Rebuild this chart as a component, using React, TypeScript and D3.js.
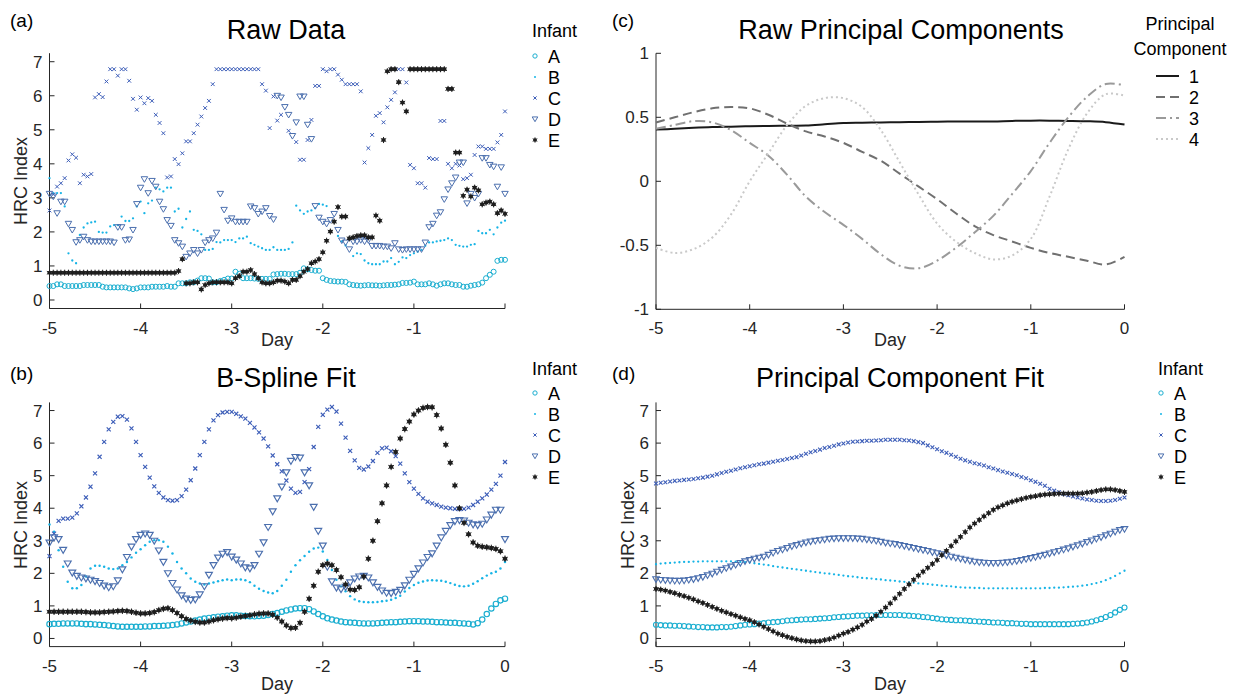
import React from "react";
import * as d3 from "d3";

// ---------- data ----------
const X_TICKS = [-5, -4, -3, -2, -1, 0];
const HRC_TICKS = [0, 1, 2, 3, 4, 5, 6, 7];
const PC_TICKS = [-1, -0.5, 0, 0.5, 1];
const PC_TICK_LABELS = ["-1", "-0.5", "0", "0.5", "1"];
const INFANTS = ["A", "B", "C", "D", "E"];
const PC_NAMES = ["1", "2", "3", "4"];

// (a) raw data, hourly samples from day -5 to day 0
const RAW_A = [
  0.41,0.41,0.46,0.46,0.41,0.41,0.41,0.41,0.41,0.44,
  0.44,0.44,0.44,0.44,0.39,0.37,0.37,0.37,0.37,0.37,
  0.37,0.34,0.32,0.34,0.37,0.37,0.37,0.39,0.39,0.39,
  0.39,0.41,0.39,0.39,0.49,0.49,0.49,0.52,0.52,0.57,
  0.64,0.64,0.63,0.52,0.52,0.56,0.59,0.63,0.63,0.83,
  0.77,0.64,0.64,0.64,0.63,0.62,0.62,0.62,0.62,0.75,
  0.76,0.77,0.77,0.76,0.76,0.76,0.80,0.93,0.90,0.88,
  0.86,0.86,0.64,0.59,0.56,0.55,0.54,0.54,0.53,0.46,
  0.44,0.43,0.42,0.43,0.44,0.43,0.43,0.42,0.43,0.44,
  0.44,0.45,0.46,0.50,0.50,0.51,0.54,0.46,0.46,0.46,
  0.49,0.46,0.42,0.46,0.49,0.49,0.46,0.44,0.44,0.39,
  0.39,0.42,0.44,0.46,0.51,0.64,0.74,0.83,1.15,1.18,
  1.18,
];
const RAW_B = [
  3.58,3.14,3.14,3.14,2.75,1.37,1.16,1.08,1.91,2.13,
  2.25,2.28,2.3,2.0,1.98,1.98,2.16,2.2,2.2,2.45,
  2.32,2.32,2.4,2.75,2.89,2.55,2.84,2.92,3.3,3.25,
  3.19,3.3,3.3,2.6,2.68,2.13,2.38,2.6,2.06,2.03,
  1.93,1.47,1.47,1.5,1.7,1.69,1.76,1.76,1.76,1.7,
  1.81,1.81,1.86,1.67,1.62,1.57,1.52,1.47,1.47,1.55,
  1.47,1.47,1.47,1.5,1.69,2.77,2.63,2.53,2.6,2.63,
  2.7,2.82,2.8,2.76,null,null,1.88,1.72,1.6,null,
  1.29,1.37,1.35,1.16,1.08,1.05,1.05,1.05,1.13,1.13,
  1.23,1.05,1.12,1.25,1.23,1.32,1.37,1.42,1.47,1.59,
  1.69,1.69,1.72,1.74,1.76,1.81,1.76,1.62,1.59,1.57,
  1.57,1.62,1.64,2.03,1.96,1.96,2.06,1.93,2.13,2.27,
  2.33,
];
const RAW_C = [
  2.63,3.1,3.33,3.43,3.58,4.1,4.28,4.18,3.43,3.68,
  3.63,3.7,5.95,6.05,5.96,6.42,6.78,6.78,6.59,6.78,
  6.78,6.44,5.91,5.59,5.95,5.78,5.93,5.85,5.44,5.2,
  4.9,3.6,3.63,4.14,3.99,4.31,4.66,4.66,4.9,5.15,
  5.39,5.64,5.85,6.34,6.78,6.78,6.78,6.78,6.78,6.78,
  6.78,6.78,6.78,6.78,6.78,6.78,6.34,6.15,5.05,5.98,
  5.27,5.44,null,4.97,null,4.64,4.12,4.12,4.7,5.29,
  6.29,6.29,6.78,6.72,6.78,6.78,6.62,6.47,6.34,6.34,
  6.34,6.34,6.13,4.04,4.46,4.85,5.41,5.49,5.22,5.66,
  5.88,6.1,6.78,6.78,6.39,3.97,3.87,3.43,3.43,3.3,
  4.17,4.14,4.14,5.26,5.26,4.0,3.87,4.0,3.95,3.55,
  3.58,3.68,4.26,4.51,4.51,4.44,4.44,4.44,4.63,4.85,
  5.54,
];
const RAW_D = [
  3.12,3.04,2.55,2.89,2.89,2.24,2.06,1.70,1.76,1.86,
  1.76,1.72,1.72,1.72,1.72,1.72,1.72,1.69,2.14,2.14,
  1.76,1.78,2.06,2.82,3.30,3.55,3.14,3.5,3.33,2.89,
  2.67,2.35,2.18,1.76,1.67,1.57,1.27,1.37,1.47,1.37,
  1.47,1.69,1.76,1.81,1.98,3.12,2.65,2.33,2.4,2.3,
  2.3,2.3,2.3,2.75,2.7,2.53,2.6,2.7,2.47,2.37,
  6.0,5.95,5.67,5.44,4.82,5.22,5.98,5.98,5.15,4.73,
  2.76,2.42,2.3,2.24,2.35,2.53,2.06,1.75,1.69,1.49,
  1.72,1.72,1.76,1.72,1.76,1.59,1.59,1.59,1.57,1.57,
  1.52,1.67,1.49,1.47,1.49,1.49,1.49,1.49,1.49,1.69,
  2.14,2.24,2.48,2.58,2.96,3.25,3.43,3.6,4.04,4.04,
  2.84,3.12,3.0,3.12,4.17,4.17,3.97,3.92,3.33,3.9,
  3.12,
];
const RAW_E = [
  0.8,0.8,0.8,0.8,0.8,0.8,0.8,0.8,0.8,0.8,
  0.8,0.8,0.8,0.8,0.8,0.8,0.8,0.8,0.8,0.8,
  0.8,0.8,0.8,0.8,0.8,0.8,0.8,0.8,0.8,0.8,
  0.8,0.8,0.8,0.8,0.85,1.2,0.49,0.49,0.52,0.52,
  0.31,0.44,0.49,0.52,0.52,0.52,0.52,0.52,0.49,0.64,
  0.70,0.83,0.83,0.88,0.76,0.64,0.52,0.49,0.49,0.52,
  0.57,0.57,0.54,0.49,0.59,0.59,0.70,0.83,0.91,1.08,
  1.13,1.2,1.4,1.74,2.01,2.3,2.73,2.45,2.45,1.81,
  1.84,1.88,1.9,1.9,1.84,1.84,2.48,2.33,4.7,6.72,
  6.78,6.78,6.4,5.8,5.54,6.78,6.78,6.78,6.78,6.78,
  6.78,6.78,6.78,6.78,6.78,6.2,6.2,4.33,4.33,3.06,
  3.24,3.04,3.3,3.22,2.81,2.86,2.89,2.81,2.55,2.63,
  2.53,
];

// (b) B-spline fit, every 0.05 day
const FIT_A = [
  0.44,0.45,0.45,0.46,0.46,0.46,0.46,0.45,0.44,0.44,
  0.43,0.42,0.41,0.4,0.38,0.37,0.36,0.36,0.36,0.36,
  0.36,0.37,0.37,0.38,0.38,0.39,0.4,0.41,0.43,0.46,
  0.49,0.52,0.55,0.58,0.61,0.63,0.65,0.67,0.68,0.7,
  0.71,0.71,0.7,0.69,0.68,0.68,0.69,0.7,0.72,0.75,
  0.78,0.82,0.86,0.89,0.92,0.93,0.93,0.9,0.83,0.75,
  0.68,0.62,0.58,0.55,0.52,0.5,0.49,0.48,0.47,0.46,
  0.46,0.46,0.47,0.48,0.49,0.5,0.5,0.51,0.52,0.53,
  0.53,0.53,0.52,0.52,0.51,0.5,0.5,0.49,0.48,0.48,
  0.47,0.46,0.45,0.43,0.47,0.58,0.75,0.92,1.06,1.17,
  1.22,
];
const FIT_B = [
  3.5,3.28,2.71,2.2,1.74,1.54,1.54,1.64,1.9,2.15,
  2.23,2.23,2.2,2.15,2.13,2.15,2.25,2.35,2.49,2.63,
  2.74,2.86,2.97,3.02,3.02,2.97,2.82,2.61,2.35,2.15,
  2.0,1.84,1.74,1.69,1.66,1.69,1.72,1.76,1.79,1.81,
  1.79,1.81,1.81,1.79,1.73,1.62,1.53,1.46,1.41,1.39,
  1.46,1.62,1.8,2.05,2.25,2.4,2.53,2.66,2.76,2.79,
  2.67,2.41,2.1,1.8,1.6,1.45,1.3,1.2,1.14,1.12,
  1.11,1.11,1.12,1.14,1.16,1.19,1.24,1.31,1.44,1.55,
  1.64,1.71,1.75,1.78,1.79,1.78,1.77,1.74,1.7,1.65,
  1.61,1.6,1.62,1.68,1.76,1.85,1.93,2.0,2.05,2.15,
  2.35,
];
const FIT_C = [
  2.53,3.22,3.61,3.68,3.68,3.71,3.84,4.06,4.33,4.66,
  5.07,5.58,6.04,6.42,6.65,6.81,6.83,6.72,6.45,6.04,
  5.63,5.27,4.94,4.67,4.47,4.33,4.25,4.23,4.25,4.37,
  4.57,4.86,5.22,5.63,6.04,6.42,6.7,6.86,6.94,6.96,
  6.96,6.9,6.82,6.75,6.62,6.48,6.33,6.14,5.9,5.62,
  5.35,5.13,4.85,4.6,4.47,4.5,4.8,5.2,5.88,6.5,
  6.87,7.03,7.11,6.97,6.6,6.17,5.76,5.47,5.24,5.19,
  5.28,5.45,5.7,5.84,5.86,5.75,5.6,5.37,5.07,4.8,
  4.6,4.44,4.3,4.2,4.15,4.1,4.05,4.02,4.0,3.98,
  3.97,3.98,4.02,4.1,4.2,4.3,4.42,4.57,4.75,5.0,
  5.42,
];
const FIT_D = [
  2.94,3.1,3.05,2.72,2.3,2.02,1.92,1.87,1.84,1.8,
  1.76,1.7,1.62,1.57,1.6,1.78,2.12,2.5,2.82,3.05,
  3.18,3.22,3.18,3.0,2.7,2.35,2.0,1.7,1.5,1.32,
  1.22,1.18,1.2,1.35,1.6,1.95,2.25,2.48,2.6,2.65,
  2.51,2.42,2.3,2.18,2.15,2.25,2.6,2.95,3.42,3.9,
  4.3,4.66,5.1,5.45,5.57,5.55,5.1,4.7,4.04,3.3,
  2.85,2.2,1.75,1.56,1.51,1.58,1.72,1.84,1.9,1.92,
  1.87,1.72,1.58,1.47,1.4,1.39,1.43,1.49,1.63,1.8,
  1.98,2.15,2.33,2.5,2.61,2.85,3.1,3.3,3.48,3.6,
  3.63,3.62,3.55,3.5,3.48,3.52,3.65,3.8,3.95,3.95,
  3.05,
];
const FIT_E = [
  0.82,0.82,0.82,0.82,0.82,0.82,0.82,0.82,0.81,0.8,
  0.8,0.8,0.81,0.82,0.83,0.84,0.85,0.84,0.82,0.79,
  0.77,0.77,0.78,0.81,0.87,0.91,0.93,0.87,0.78,0.68,
  0.6,0.55,0.51,0.49,0.49,0.52,0.56,0.59,0.61,0.63,
  0.62,0.64,0.67,0.69,0.71,0.74,0.76,0.77,0.77,0.73,
  0.64,0.52,0.4,0.32,0.33,0.48,0.82,1.22,1.62,2.05,
  2.25,2.3,2.25,2.1,1.88,1.66,1.5,1.49,1.57,1.9,
  2.45,3.0,3.6,4.15,4.7,5.27,5.73,6.14,6.43,6.66,
  6.88,7.0,7.08,7.11,7.1,6.86,6.45,5.95,5.4,4.7,
  4.0,3.55,3.2,2.95,2.85,2.82,2.8,2.78,2.75,2.68,
  2.45,
];

// (c) raw principal components, every 0.2 day
const PC1 = [0.404,0.41,0.418,0.424,0.427,0.43,0.432,0.434,0.435,0.445,0.456,0.458,0.46,0.462,0.464,0.466,0.467,0.467,0.468,0.472,0.474,0.474,0.472,0.469,0.462,0.443];
const PC2 = [0.46,0.5,0.54,0.57,0.58,0.57,0.52,0.45,0.39,0.35,0.3,0.23,0.16,0.06,-0.04,-0.14,-0.25,-0.35,-0.42,-0.47,-0.52,-0.56,-0.59,-0.62,-0.65,-0.59];
const PC3 = [0.41,0.44,0.47,0.46,0.4,0.3,0.2,0.05,-0.12,-0.24,-0.34,-0.45,-0.57,-0.66,-0.68,-0.62,-0.52,-0.4,-0.27,-0.1,0.08,0.3,0.5,0.66,0.76,0.75];
const PC4 = [-0.52,-0.56,-0.53,-0.44,-0.26,0.0,0.22,0.44,0.59,0.65,0.65,0.58,0.4,0.15,-0.1,-0.33,-0.47,-0.56,-0.61,-0.58,-0.45,-0.12,0.25,0.53,0.68,0.67];

// (d) principal component fit, every 0.05 day
const PCF_A = [
  0.42,0.41,0.4,0.4,0.39,0.39,0.38,0.37,0.36,0.35,
  0.35,0.34,0.34,0.34,0.35,0.35,0.36,0.38,0.4,0.42,
  0.43,0.44,0.46,0.47,0.49,0.5,0.51,0.53,0.55,0.56,
  0.57,0.58,0.59,0.59,0.6,0.61,0.62,0.63,0.65,0.66,
  0.67,0.68,0.69,0.7,0.7,0.71,0.71,0.72,0.72,0.72,
  0.72,0.72,0.72,0.71,0.7,0.69,0.68,0.66,0.65,0.63,
  0.61,0.59,0.58,0.57,0.56,0.56,0.55,0.54,0.53,0.52,
  0.51,0.5,0.49,0.49,0.48,0.47,0.47,0.46,0.45,0.45,
  0.44,0.44,0.44,0.44,0.44,0.44,0.44,0.44,0.44,0.45,
  0.46,0.47,0.49,0.52,0.56,0.6,0.66,0.72,0.8,0.88,
  0.95,
];
const PCF_B = [
  2.28,2.3,2.31,2.32,2.33,2.34,2.35,2.35,2.36,2.36,
  2.37,2.37,2.37,2.37,2.37,2.37,2.37,2.36,2.35,2.34,
  2.33,2.31,2.29,2.27,2.25,2.22,2.2,2.18,2.16,2.14,
  2.12,2.1,2.08,2.06,2.04,2.02,2.0,1.99,1.97,1.95,
  1.93,1.91,1.9,1.88,1.86,1.85,1.84,1.82,1.81,1.79,
  1.78,1.77,1.75,1.74,1.72,1.71,1.69,1.68,1.67,1.65,
  1.64,1.62,1.61,1.6,1.58,1.57,1.56,1.56,1.55,1.55,
  1.54,1.54,1.54,1.54,1.54,1.54,1.54,1.54,1.54,1.54,
  1.54,1.54,1.54,1.55,1.55,1.56,1.56,1.57,1.58,1.59,
  1.6,1.62,1.64,1.67,1.7,1.74,1.79,1.85,1.92,2.0,
  2.08,
];
const PCF_C = [
  4.76,4.78,4.8,4.82,4.84,4.85,4.87,4.88,4.9,4.92,
  4.94,4.97,5.0,5.04,5.08,5.12,5.15,5.19,5.23,5.26,
  5.29,5.32,5.35,5.37,5.4,5.43,5.46,5.48,5.51,5.54,
  5.57,5.62,5.67,5.72,5.76,5.8,5.85,5.88,5.92,5.96,
  5.99,6.02,6.04,6.05,6.06,6.07,6.07,6.08,6.09,6.1,
  6.1,6.1,6.1,6.09,6.08,6.06,6.03,6.0,5.93,5.87,
  5.81,5.75,5.7,5.64,5.58,5.52,5.47,5.43,5.38,5.35,
  5.31,5.26,5.22,5.17,5.13,5.09,5.05,5.01,4.96,4.92,
  4.86,4.81,4.75,4.69,4.6,4.54,4.49,4.44,4.4,4.36,
  4.33,4.3,4.27,4.25,4.23,4.22,4.22,4.23,4.25,4.29,
  4.33,
];
const PCF_D = [
  1.82,1.8,1.79,1.78,1.77,1.77,1.78,1.8,1.82,1.85,
  1.89,1.94,1.99,2.05,2.11,2.16,2.21,2.26,2.32,2.37,
  2.41,2.45,2.48,2.51,2.57,2.63,2.69,2.73,2.78,2.83,
  2.87,2.91,2.95,2.98,3.0,3.02,3.04,3.06,3.07,3.08,
  3.08,3.08,3.08,3.07,3.06,3.04,3.02,3.0,2.97,2.94,
  2.92,2.9,2.87,2.84,2.81,2.78,2.75,2.72,2.69,2.65,
  2.62,2.59,2.55,2.51,2.48,2.45,2.42,2.39,2.36,2.34,
  2.33,2.32,2.32,2.32,2.33,2.34,2.36,2.38,2.41,2.44,
  2.47,2.5,2.54,2.57,2.61,2.65,2.69,2.73,2.77,2.82,
  2.86,2.91,2.96,3.01,3.06,3.11,3.17,3.22,3.28,3.33,
  3.36,
];
const PCF_E = [
  1.52,1.5,1.47,1.43,1.39,1.34,1.3,1.25,1.2,1.14,
  1.09,1.03,0.97,0.91,0.85,0.8,0.75,0.7,0.65,0.6,
  0.56,0.5,0.43,0.36,0.29,0.22,0.15,0.1,0.05,0.01,
  -0.03,-0.06,-0.08,-0.09,-0.09,-0.08,-0.05,-0.02,0.03,0.09,
  0.15,0.2,0.27,0.34,0.42,0.52,0.6,0.7,0.82,0.95,
  1.08,1.23,1.37,1.52,1.66,1.8,1.93,2.05,2.17,2.29,
  2.41,2.56,2.69,2.84,2.98,3.12,3.27,3.41,3.53,3.64,
  3.75,3.85,3.95,4.03,4.09,4.15,4.2,4.24,4.28,4.32,
  4.35,4.37,4.4,4.42,4.43,4.44,4.45,4.45,4.45,4.45,
  4.45,4.46,4.48,4.5,4.53,4.56,4.58,4.58,4.56,4.53,
  4.5,
];

// ---------- styling ----------
const FONT = "'Liberation Sans', Arial, Helvetica, sans-serif";
const AXIS = "#262626";
const COLORS: Record<string, string> = {
  A: "#1aaed0",
  B: "#16b4e6",
  C: "#3c5db8",
  D: "#4b6fae",
  E: "#1e1e1e",
};
const PC_STYLES = [
  { stroke: "#1a1a1a", dash: "" },
  { stroke: "#707070", dash: "9,5" },
  { stroke: "#9a9a9a", dash: "10,4,2,4" },
  { stroke: "#c9c9c9", dash: "2,3" },
];

type Frame = { x0: number; x1: number; yTop: number; yBot: number; yDom: [number, number] };
const FRAME_A: Frame = { x0: 49.5, x1: 505, yTop: 53.2, yBot: 308.5, yDom: [-0.25, 7.25] };
const FRAME_B: Frame = { x0: 49.5, x1: 505, yTop: 402.4, yBot: 646.6, yDom: [-0.25, 7.25] };
const FRAME_C: Frame = { x0: 656, x1: 1124.5, yTop: 53.3, yBot: 309.3, yDom: [-1, 1] };
const FRAME_D: Frame = { x0: 656, x1: 1124.5, yTop: 402.4, yBot: 646.6, yDom: [-0.25, 7.25] };

function Marker({ k, x, y, s, w = 1 }: { k: string; x: number; y: number; s: number; w?: number }) {
  const c = COLORS[k];
  if (k === "A") return <circle cx={x} cy={y} r={2.4 * s} fill="none" stroke={c} strokeWidth={w} />;
  if (k === "B") return <circle cx={x} cy={y} r={1.1 * s} fill={c} />;
  if (k === "C") {
    const h = 1.8 * s;
    return (
      <path
        d={`M${x - h},${y - h}L${x + h},${y + h}M${x - h},${y + h}L${x + h},${y - h}`}
        stroke={c}
        strokeWidth={w}
        fill="none"
      />
    );
  }
  if (k === "D") {
    const hw = 3.1 * s;
    return (
      <path
        d={`M${x - hw},${y - 2.3 * s}L${x + hw},${y - 2.3 * s}L${x},${y + 3 * s}Z`}
        stroke={c}
        strokeWidth={w}
        fill="none"
      />
    );
  }
  const a = 2.9 * s;
  return (
    <g>
      <circle cx={x} cy={y} r={2 * s} fill={c} />
      <path
        d={`M${x},${y - a}L${x},${y + a}M${x - a * 0.87},${y - a / 2}L${x + a * 0.87},${y + a / 2}M${x - a * 0.87},${y + a / 2}L${x + a * 0.87},${y - a / 2}`}
        stroke={c}
        strokeWidth={1}
      />
    </g>
  );
}

function Axes({
  f,
  yTicks,
  yLabels,
  xLabelSkip,
}: {
  f: Frame;
  yTicks: number[];
  yLabels: string[];
  xLabelSkip?: number[];
}) {
  const xs = d3.scaleLinear().domain([-5, 0]).range([f.x0, f.x1]);
  const ys = d3.scaleLinear().domain(f.yDom).range([f.yBot, f.yTop]);
  return (
    <g fontFamily={FONT} fill={AXIS}>
      <line x1={f.x0} x2={f.x0} y1={f.yTop} y2={f.yBot} stroke={AXIS} strokeWidth={1} />
      <line x1={f.x0} x2={f.x1} y1={f.yBot} y2={f.yBot} stroke={AXIS} strokeWidth={1} />
      {X_TICKS.map((t) => (
        <g key={"x" + t}>
          <line x1={xs(t)} x2={xs(t)} y1={f.yBot} y2={f.yBot - 5} stroke={AXIS} strokeWidth={1} />
          {xLabelSkip && xLabelSkip.includes(t) ? null : (
            <text x={xs(t)} y={f.yBot + 25} textAnchor="middle" fontSize={17}>
              {String(t)}
            </text>
          )}
        </g>
      ))}
      {yTicks.map((t, i) => (
        <g key={"y" + t}>
          <line x1={f.x0} x2={f.x0 + 5} y1={ys(t)} y2={ys(t)} stroke={AXIS} strokeWidth={1} />
          <text x={f.x0 - 7} y={ys(t) + 6} textAnchor="end" fontSize={17}>
            {yLabels[i]}
          </text>
        </g>
      ))}
    </g>
  );
}

function InfantMarks({
  f,
  days,
  series,
  s,
  w,
}: {
  f: Frame;
  days: number[];
  series: (number | null)[][];
  s: number;
  w: number;
}) {
  const xs = d3.scaleLinear().domain([-5, 0]).range([f.x0, f.x1]);
  const ys = d3.scaleLinear().domain(f.yDom).range([f.yBot, f.yTop]);
  return (
    <g>
      {series.map((vals, si) => (
        <g key={INFANTS[si]}>
          {vals.map((v, i) =>
            v === null ? null : <Marker key={i} k={INFANTS[si]} x={xs(days[i])} y={ys(v)} s={s} w={w} />
          )}
        </g>
      ))}
    </g>
  );
}

function InfantLegend({ x, titleY, rows }: { x: number; titleY: number; rows: number[] }) {
  return (
    <g fontFamily={FONT}>
      <text x={x} y={titleY} fontSize={18} fill="#000">
        Infant
      </text>
      {INFANTS.map((k, i) => (
        <g key={k}>
          <Marker k={k} x={x + 3} y={rows[i]} s={0.9} />
          <text x={x + 16} y={rows[i] + 6.5} fontSize={18} fill="#000">
            {k}
          </text>
        </g>
      ))}
    </g>
  );
}

function Titles({ label, lx, ly, title, tx, ty }: { label: string; lx: number; ly: number; title: string; tx: number; ty: number }) {
  return (
    <g fontFamily={FONT} fill="#000">
      <text x={lx} y={ly} fontSize={19}>
        {label}
      </text>
      <text x={tx} y={ty} fontSize={27} textAnchor="middle">
        {title}
      </text>
    </g>
  );
}

export default function App() {
  const rawDays = RAW_A.map((_, i) => -5 + i / 24);
  const fitDays = FIT_A.map((_, i) => -5 + i * 0.05);
  const pcDays = PC1.map((_, i) => -5 + i * 0.2);
  const hrcLabels = HRC_TICKS.map(String);
  const rows1 = [56, 77, 98, 119, 140];
  const rows2 = [393, 414, 435, 456, 477];

  const xsC = d3.scaleLinear().domain([-5, 0]).range([FRAME_C.x0, FRAME_C.x1]);
  const ysC = d3.scaleLinear().domain(FRAME_C.yDom).range([FRAME_C.yBot, FRAME_C.yTop]);
  const pcLine = d3
    .line<number>()
    .x((_, i) => xsC(pcDays[i]))
    .y((v) => ysC(v))
    .curve(d3.curveCatmullRom.alpha(0.5));
  const pcs = [PC1, PC2, PC3, PC4];

  return (
    <svg
      width={1240}
      height={697}
      viewBox="0 0 1240 697"
      style={{ position: "absolute", left: 0, top: 0, background: "#fff" }}
    >
      <rect x={0} y={0} width={1240} height={697} fill="#fff" />

      {/* (a) */}
      <Titles label="(a)" lx={10} ly={27} title="Raw Data" tx={286} ty={39} />
      <Axes f={FRAME_A} yTicks={HRC_TICKS} yLabels={hrcLabels} xLabelSkip={[0]} />
      <InfantMarks f={FRAME_A} days={rawDays} series={[RAW_A, RAW_B, RAW_C, RAW_D, RAW_E]} s={1.05} w={1} />
      <InfantLegend x={532} titleY={37} rows={rows1} />
      <text x={277} y={346} textAnchor="middle" fontSize={18} fontFamily={FONT} fill={AXIS}>
        Day
      </text>
      <text transform="translate(27,181) rotate(-90)" textAnchor="middle" fontSize={18} fontFamily={FONT} fill={AXIS}>
        HRC Index
      </text>

      {/* (b) */}
      <Titles label="(b)" lx={10} ly={380} title="B-Spline Fit" tx={286} ty={387} />
      <Axes f={FRAME_B} yTicks={HRC_TICKS} yLabels={hrcLabels} />
      <InfantMarks f={FRAME_B} days={fitDays} series={[FIT_A, FIT_B, FIT_C, FIT_D, FIT_E]} s={1.12} w={1.15} />
      <InfantLegend x={532} titleY={375} rows={rows2} />
      <text x={277} y={690} textAnchor="middle" fontSize={18} fontFamily={FONT} fill={AXIS}>
        Day
      </text>
      <text transform="translate(27,525) rotate(-90)" textAnchor="middle" fontSize={18} fontFamily={FONT} fill={AXIS}>
        HRC Index
      </text>

      {/* (c) */}
      <Titles label="(c)" lx={612} ly={27} title="Raw Principal Components" tx={901} ty={39} />
      <Axes f={FRAME_C} yTicks={PC_TICKS} yLabels={PC_TICK_LABELS} />
      {pcs.map((p, i) => (
        <path
          key={i}
          d={pcLine(p) || ""}
          fill="none"
          stroke={PC_STYLES[i].stroke}
          strokeWidth={2}
          strokeDasharray={PC_STYLES[i].dash || undefined}
        />
      ))}
      <g fontFamily={FONT} fill="#000">
        <text x={1180} y={30} textAnchor="middle" fontSize={18}>
          Principal
        </text>
        <text x={1180} y={55} textAnchor="middle" fontSize={18}>
          Component
        </text>
        {PC_NAMES.map((n, i) => (
          <g key={n}>
            <line
              x1={1156}
              x2={1179}
              y1={76 + i * 21}
              y2={76 + i * 21}
              stroke={PC_STYLES[i].stroke}
              strokeWidth={2}
              strokeDasharray={PC_STYLES[i].dash || undefined}
            />
            <text x={1189} y={76 + i * 21 + 6.5} fontSize={18}>
              {n}
            </text>
          </g>
        ))}
      </g>
      <text x={890} y={346} textAnchor="middle" fontSize={18} fontFamily={FONT} fill={AXIS}>
        Day
      </text>

      {/* (d) */}
      <Titles label="(d)" lx={612} ly={380} title="Principal Component Fit" tx={900} ty={387} />
      <Axes f={FRAME_D} yTicks={HRC_TICKS} yLabels={hrcLabels} />
      <InfantMarks f={FRAME_D} days={fitDays} series={[PCF_A, PCF_B, PCF_C, PCF_D, PCF_E]} s={1.05} w={1.1} />
      <InfantLegend x={1158} titleY={375} rows={rows2} />
      <text x={890} y={690} textAnchor="middle" fontSize={18} fontFamily={FONT} fill={AXIS}>
        Day
      </text>
      <text transform="translate(634,525) rotate(-90)" textAnchor="middle" fontSize={18} fontFamily={FONT} fill={AXIS}>
        HRC Index
      </text>
    </svg>
  );
}
